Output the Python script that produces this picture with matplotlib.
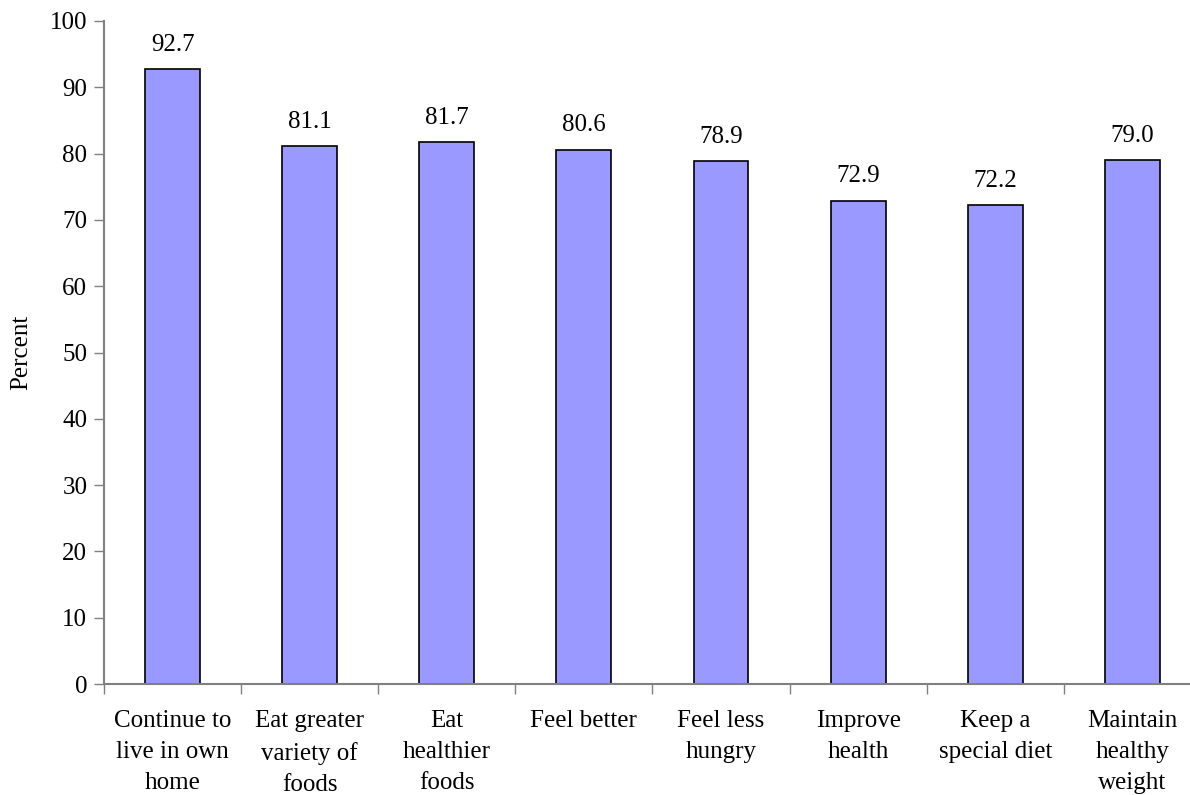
import matplotlib.pyplot as plt
import numpy as np

categories = [
    "Continue to\nlive in own\nhome",
    "Eat greater\nvariety of\nfoods",
    "Eat\nhealthier\nfoods",
    "Feel better",
    "Feel less\nhungry",
    "Improve\nhealth",
    "Keep a\nspecial diet",
    "Maintain\nhealthy\nweight",
]
percent = [92.7, 81.1, 81.7, 80.6, 78.9, 72.9, 72.2, 79.0]

plt.rcParams["font.family"] = ["Liberation Serif", "DejaVu Serif"]

fig = plt.figure(figsize=(11.9, 7.95), dpi=100)
ax = fig.add_axes([0.0874, 0.1396, 0.9218, 0.834])

x = np.arange(len(categories))
ax.bar(x, percent, width=0.4, color="#9999FF", edgecolor="black", linewidth=1.2, zorder=2)

for xi, v in zip(x, percent):
    ax.text(xi, v + 2.0, f"{v:.1f}", ha="center", va="bottom", fontsize=18)

ax.set_xlim(-0.5, len(categories) - 0.5)
ax.set_ylim(0, 100)
ax.set_yticks(range(0, 101, 10))
ax.tick_params(axis="y", labelsize=18, length=7, width=1, color="#808080", pad=5)

# boundary ticks on the x axis, labels centred on the bars
ax.set_xticks(np.arange(-0.5, len(categories), 1.0))
ax.set_xticklabels([])
ax.set_xticks(x, minor=True)
ax.set_xticklabels(categories, minor=True, fontsize=18, linespacing=1.52, va="top")
ax.tick_params(axis="x", which="major", length=7, width=1, color="#808080")
ax.tick_params(axis="x", which="minor", length=0, pad=19)

for side in ["top", "right"]:
    ax.spines[side].set_visible(False)
for side in ["left", "bottom"]:
    ax.spines[side].set_color("#808080")
    ax.spines[side].set_linewidth(1.5)

ax.set_ylabel("Percent", fontsize=18, va="center")
ax.yaxis.set_label_coords(-0.0757, 0.5)

fig.savefig("out.png", dpi=100)
